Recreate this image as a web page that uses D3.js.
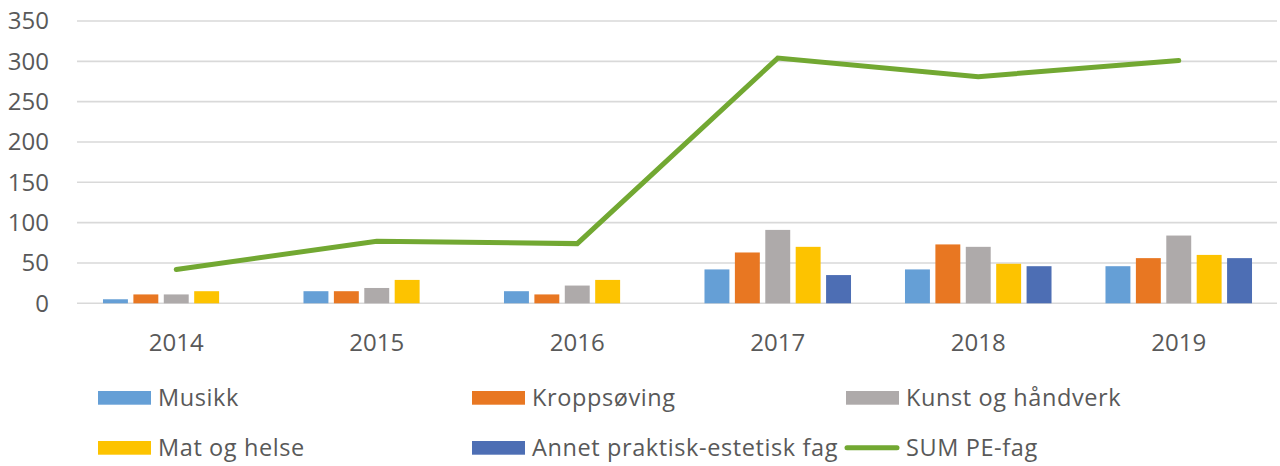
<!DOCTYPE html>
<html><head><meta charset="utf-8">
<script src="https://cdn.jsdelivr.net/npm/d3@7"></script>
<style>
html,body{margin:0;padding:0;background:#fff;}
svg{display:block;}
text{font-family:"Open Sans",sans-serif;fill:#595959;}
</style></head>
<body>
<svg id="chart" width="1280" height="466"></svg>
<script>
const years = ["2014","2015","2016","2017","2018","2019"];
const seriesNames = ["Musikk","Kroppsøving","Kunst og håndverk","Mat og helse","Annet praktisk-estetisk fag"];
const musikk      = [5, 15, 15, 42, 42, 46];
const kroppsoving = [11, 15, 11, 63, 73, 56];
const kunst       = [11, 19, 22, 91, 70, 84];
const matHelse    = [15, 29, 29, 70, 49, 60];
const annet       = [null, null, null, 35, 46, 56];
const sumPE       = [42, 77, 74, 304, 281, 301];
const lineName = "SUM PE-fag";
const yTicks = [0, 50, 100, 150, 200, 250, 300, 350];

const colors = ["#659FD6","#E87722","#AEAAAA","#FDC300","#4D6EB4"];
const lineColor = "#72A832";
const seriesValues = [musikk, kroppsoving, kunst, matHelse, annet];

const svg = d3.select("#chart");
const x = d3.scaleBand().domain(years).range([76, 1279]);
const xi = d3.scaleBand().domain(seriesNames).range([-76, 76]).paddingInner(0.18).paddingOuter(0.09);
const y = d3.scaleLinear().domain([0, 350]).range([303.3, 21]);

// gridlines
svg.append("g").selectAll("line").data(yTicks).join("line")
  .attr("x1", 77).attr("x2", 1277)
  .attr("y1", d => y(d)).attr("y2", d => y(d))
  .attr("stroke", "#D9D9D9").attr("stroke-width", 1.6);

// y labels
svg.append("g").selectAll("text").data(yTicks).join("text")
  .attr("x", 49).attr("y", d => y(d)).attr("dy", "0.35em")
  .attr("text-anchor", "end").attr("font-size", 24).text(d => d);

// x labels
svg.append("g").selectAll("text").data(years).join("text")
  .attr("x", d => x(d) + x.bandwidth()/2).attr("y", 350.5)
  .attr("text-anchor", "middle").attr("font-size", 24).text(d => d);

// bars
const barData = [];
seriesNames.forEach((s, si) => {
  years.forEach((yr, yi) => {
    const v = seriesValues[si][yi];
    if (v != null) barData.push({s, si, yr, v});
  });
});
svg.append("g").selectAll("rect").data(barData).join("rect")
  .attr("x", d => x(d.yr) + x.bandwidth()/2 + xi(d.s))
  .attr("width", xi.bandwidth())
  .attr("y", d => y(d.v))
  .attr("height", d => y(0) - y(d.v))
  .attr("fill", d => colors[d.si]);

// line
const line = d3.line().x((d, i) => x(years[i]) + x.bandwidth()/2).y(d => y(d));
svg.append("path").datum(sumPE).attr("d", line)
  .attr("fill", "none").attr("stroke", lineColor).attr("stroke-width", 5)
  .attr("stroke-linecap", "round").attr("stroke-linejoin", "miter");

// legend
const legendPos = [
  {x: 98, y: 397.8}, {x: 472, y: 397.8}, {x: 846, y: 397.8},
  {x: 98, y: 447.8}, {x: 472, y: 447.8}, {x: 846, y: 447.8}
];
const legendItems = seriesNames.map((n, i) => ({name: n, color: colors[i], type: "rect"}))
  .concat([{name: lineName, color: lineColor, type: "line"}]);
const lg = svg.append("g").selectAll("g").data(legendItems).join("g")
  .attr("transform", (d, i) => `translate(${legendPos[i].x},${legendPos[i].y})`);
lg.filter(d => d.type === "rect").append("rect")
  .attr("x", 0).attr("y", -6.8).attr("width", 53).attr("height", 13.7).attr("fill", d => d.color);
lg.filter(d => d.type === "line").append("line")
  .attr("x1", 1).attr("x2", 51).attr("y1", 0).attr("y2", 0)
  .attr("stroke", d => d.color).attr("stroke-width", 5).attr("stroke-linecap", "round");
lg.append("text").attr("x", 60).attr("y", 0).attr("dy", "0.35em")
  .attr("font-size", 23.5).attr("letter-spacing", 0.6).text(d => d.name);
</script>
</body></html>
